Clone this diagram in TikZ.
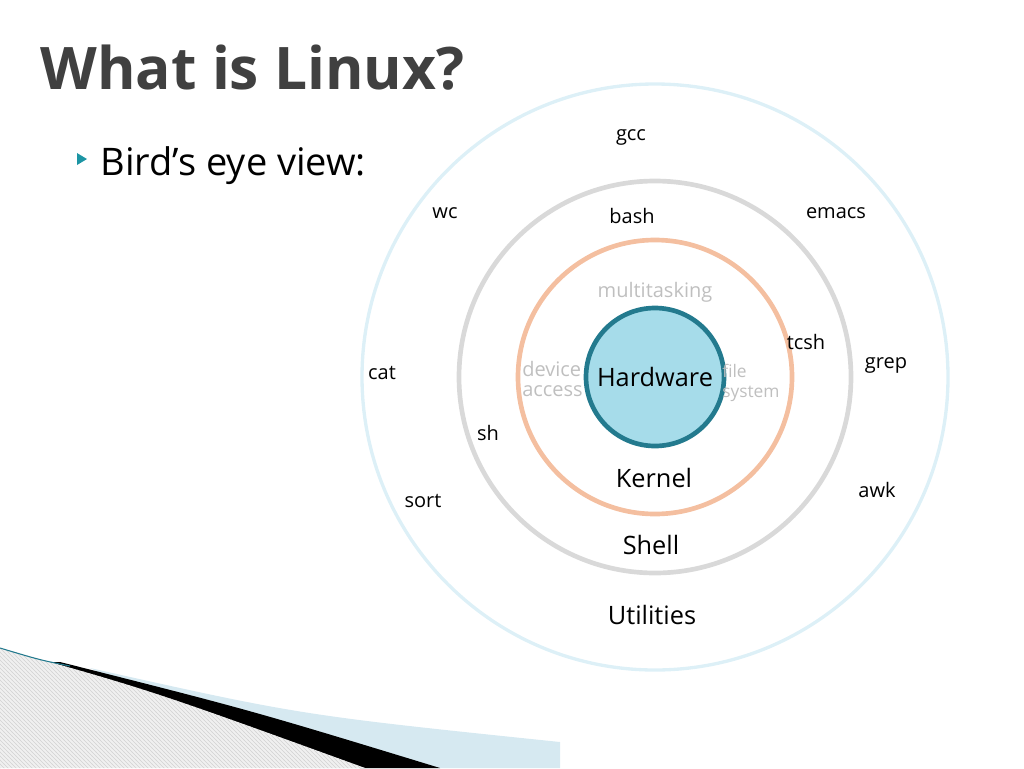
\documentclass[tikz,border=0pt]{standalone}
\usepackage{fontspec}
\setmainfont{Open Sans}
\usetikzlibrary{patterns}
\definecolor{titlegray}{HTML}{404040}
\definecolor{ringblue}{HTML}{DDF0F7}
\definecolor{ringgray}{HTML}{D9D9D9}
\definecolor{ringorange}{HTML}{F4BFA0}
\definecolor{hwfill}{HTML}{A6DCEA}
\definecolor{hwedge}{HTML}{237A8E}
\definecolor{softgray}{HTML}{BFBFBF}
\definecolor{bandblue}{HTML}{D6E9F1}
\begin{document}
\begin{tikzpicture}[
      x=0.75pt,y=-0.75pt,
      ring/.style={draw, line width=3.5pt},
      tool/.style={font=\fontsize{15}{17}\selectfont, text=black},
      layer/.style={font=\fontsize{19}{21}\selectfont, text=black},
      task/.style={font=\fontsize{15}{15}\selectfont, text=softgray, align=left, inner sep=0pt}
      ]
      \useasboundingbox (0,0) rectangle (1024,768);
      % bottom left decoration
      \fill[bandblue] (90,668) .. controls (300,715) .. (560,742) -- (560,768) -- (300,768) -- cycle;
      \fill[black] (60,662) .. controls (250,710) .. (440,768) -- (360,768) .. controls (200,710) .. (50,662) -- cycle;
      \fill[gray!12] (0,648) .. controls (150,690) .. (365,768) -- (0,768) -- cycle;
      \fill[pattern=north west lines, pattern color=gray!35] (0,648) .. controls (150,690) .. (365,768) -- (0,768) -- cycle;
      \draw[hwedge, line width=0.8pt] (0,648) .. controls (40,660) .. (70,666);
      % title
      \node[anchor=west, font=\fontsize{44}{46}\selectfont\bfseries, text=titlegray] (title) at (36,68) {What is Linux?};
      \fill[hwedge!80!cyan] (77,153) -- (87,159) -- (77,165) -- cycle;
      \node[anchor=west, font=\fontsize{28.5}{30}\selectfont] (bullet) at (96,166) {Bird’s eye view:};
      % rings
      \coordinate (c) at (655,377);
      \draw[ring, ringblue, line width=2.5pt] (c) circle[radius=293];
      \draw[ring, ringgray] (c) circle[radius=196];
      \draw[ring, ringorange] (c) circle[radius=137];
      \draw[ring, hwedge, fill=hwfill] (c) circle[radius=69];
      \node[layer] (hw) at (c) {Hardware};
      \node[layer] (kernel) at (654,478) {Kernel};
      \node[layer] (shell) at (651,545) {Shell};
      \node[layer] (util) at (652,615) {Utilities};
      % kernel tasks
      \node[task] (multi) at (655,292) {multitasking};
      \node[task, anchor=west] (dev) at (522,379) {device\\access};
      \node[task, anchor=west, font=\fontsize{13}{15}\selectfont] (fs) at (722,383) {file\\system};
      % tools
      \node[tool] (gcc) at (631,137) {gcc};
      \node[tool] (wc) at (445,213) {wc};
      \node[tool] (bash) at (632,216) {bash};
      \node[tool] (emacs) at (836,213) {emacs};
      \node[tool] (tcsh) at (806,342) {tcsh};
      \node[tool] (grep) at (886,365) {grep};
      \node[tool] (cat) at (382,373) {cat};
      \node[tool] (sh) at (488,433) {sh};
      \node[tool] (awk) at (877,490) {awk};
      \node[tool] (sort) at (423,501) {sort};
    \end{tikzpicture}
\end{document}
